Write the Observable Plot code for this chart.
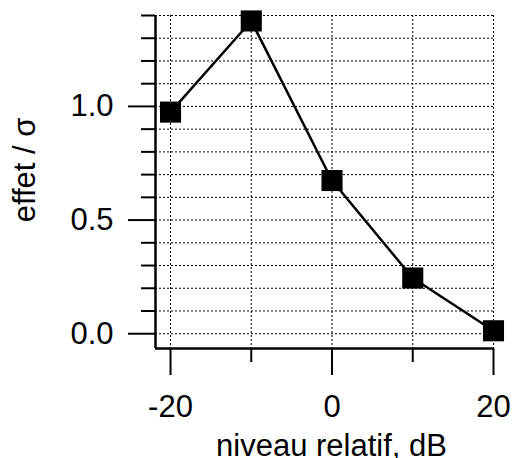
<!DOCTYPE html>
<html><head><meta charset="utf-8">
<script src="https://cdn.jsdelivr.net/npm/d3@7"></script>
<script src="https://cdn.jsdelivr.net/npm/@observablehq/plot@0.6"></script>
<style>html,body{margin:0;padding:0;background:#fff}</style>
</head><body><div id="chart"></div>
<script>
const levels = [-20, -10, 0, 10, 20];
const effects = [0.975, 1.376, 0.674, 0.245, 0.013];
const xTicks = [-20, 0, 20];
const xMinorTicks = [-10, 10];
const xGrid = [-20, -10, 0, 10, 20];
const yTicks = [0, 0.5, 1.0];
const yMinorTicks = [0.1, 0.2, 0.3, 0.4, 0.6, 0.7, 0.8, 0.9, 1.1, 1.2, 1.3, 1.4];
const yGrid = [0, 0.1, 0.2, 0.3, 0.4, 0.5, 0.6, 0.7, 0.8, 0.9, 1.0, 1.1, 1.2, 1.3, 1.4];
const xDomain = [-21.86, 20];
const yDomain = [-0.065, 1.4];
const xLabel = "niveau relatif, dB";
const yLabel = "effet / σ";

const data = levels.map((x, i) => ({x, y: effects[i]}));
const gridStyle = {stroke: "#000", strokeOpacity: 1, strokeWidth: 1, strokeDasharray: "2,2"};

const chart = Plot.plot({
  width: 512, height: 458,
  marginLeft: 155, marginRight: 19, marginTop: 15, marginBottom: 110,
  style: {fontFamily: "'Liberation Sans', Arial, sans-serif", fontSize: "31px", color: "#000", background: "#fff"},
  x: {domain: xDomain},
  y: {domain: yDomain},
  marks: [
    Plot.gridX(xGrid, gridStyle),
    Plot.gridY(yGrid, gridStyle),
    Plot.axisX(xTicks, {tickSize: 27, tickPadding: 19, strokeWidth: 2, label: null, tickFormat: d => String(d), fontSize: 31}),
    Plot.axisX(xMinorTicks, {tickSize: 14, strokeWidth: 2, label: null, tickFormat: () => ""}),
    Plot.axisY(yTicks, {tickSize: 27, tickPadding: 15, strokeWidth: 2, label: null, tickFormat: d3.format(".1f"), fontSize: 31}),
    Plot.axisY(yMinorTicks, {tickSize: 14, strokeWidth: 2, label: null, tickFormat: () => ""}),
    Plot.ruleX([xDomain[0]], {strokeWidth: 2.5, stroke: "#000"}),
    Plot.ruleY([yDomain[0]], {strokeWidth: 2.5, stroke: "#000"}),
    Plot.line(data, {x: "x", y: "y", stroke: "#000", strokeWidth: 2.5}),
    Plot.dot(data, {x: "x", y: "y", symbol: "square", r: 11.9, fill: "#000", stroke: "none"}),
    Plot.text([xLabel], {frameAnchor: "bottom", text: d => d, dx: 7, dy: 98, lineAnchor: "middle", fontSize: 31}),
    Plot.text([yLabel], {frameAnchor: "left", text: d => d, rotate: -90, dx: -130, dy: -12, lineAnchor: "middle", textAnchor: "middle", fontSize: 31})
  ]
});
document.getElementById("chart").appendChild(chart);
</script>
</body></html>
